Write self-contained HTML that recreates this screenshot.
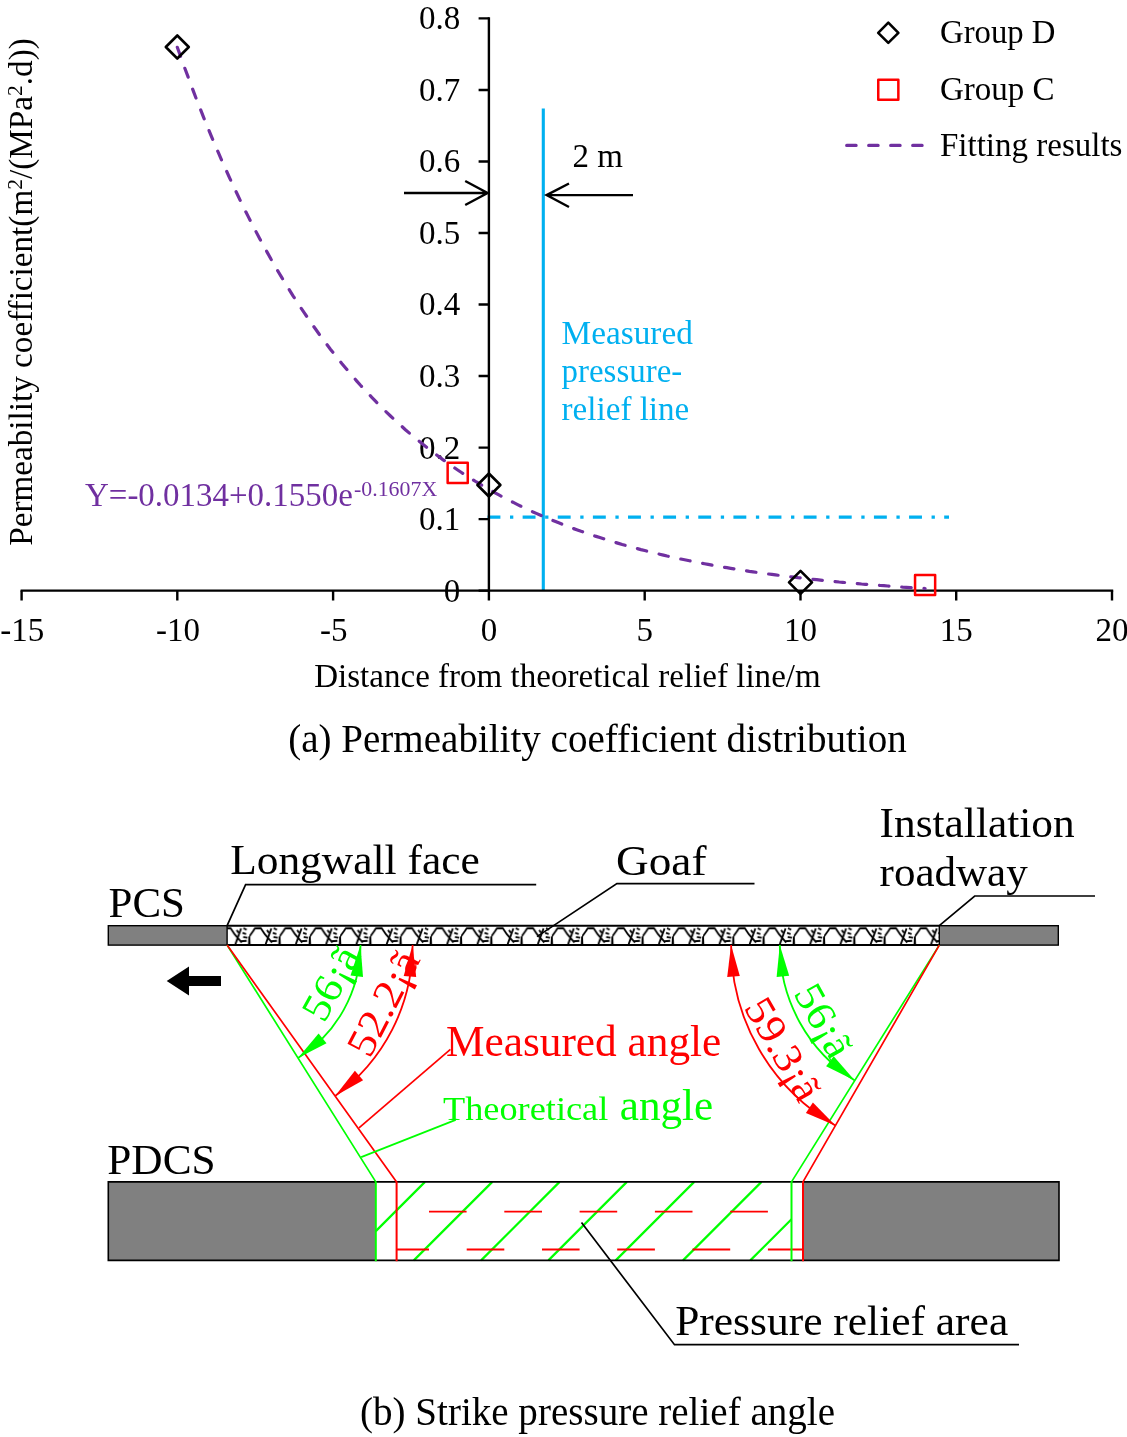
<!DOCTYPE html>
<html lang="en"><head><meta charset="utf-8"><title>Figure</title><style>html,body{margin:0;padding:0;background:#fff}svg{display:block}</style></head><body>
<svg width="1127" height="1437" viewBox="0 0 1127 1437" font-family="'Liberation Serif', serif">
<rect width="1127" height="1437" fill="#fff"/>
<g id="chart" font-size="33" fill="#000">
<line x1="543.3" y1="108.5" x2="543.3" y2="590.6" stroke="#00B0F0" stroke-width="3.1"/>
<line x1="487.5" y1="517.1" x2="949" y2="517.1" stroke="#00B0F0" stroke-width="3.2" stroke-dasharray="12.9 9.6 3.3 9.33"/>
<path d="M488.9 17.2V590.6M20.6 590.6H1113.2" stroke="#000" stroke-width="2.4" fill="none"/>
<path d="M478.6 590.6H488.9M478.6 519.1H488.9M478.6 447.6H488.9M478.6 376.0H488.9M478.6 304.5H488.9M478.6 233.0H488.9M478.6 161.5H488.9M478.6 90.0H488.9M478.6 18.4H488.9M21.6 590.6V600.6M177.3 590.6V600.6M333.1 590.6V600.6M488.9 590.6V600.6M644.7 590.6V600.6M800.5 590.6V600.6M956.2 590.6V600.6M1112.0 590.6V600.6" stroke="#000" stroke-width="2.4" fill="none"/>
<text x="460.3" y="601.5" text-anchor="end">0</text>
<text x="460.3" y="530.0" text-anchor="end">0.1</text>
<text x="460.3" y="458.5" text-anchor="end">0.2</text>
<text x="460.3" y="386.9" text-anchor="end">0.3</text>
<text x="460.3" y="315.4" text-anchor="end">0.4</text>
<text x="460.3" y="243.9" text-anchor="end">0.5</text>
<text x="460.3" y="172.4" text-anchor="end">0.6</text>
<text x="460.3" y="100.9" text-anchor="end">0.7</text>
<text x="460.3" y="29.3" text-anchor="end">0.8</text>
<text x="22.3" y="640.8" text-anchor="middle">-15</text>
<text x="178.0" y="640.8" text-anchor="middle">-10</text>
<text x="333.8" y="640.8" text-anchor="middle">-5</text>
<text x="488.9" y="640.8" text-anchor="middle">0</text>
<text x="644.7" y="640.8" text-anchor="middle">5</text>
<text x="800.5" y="640.8" text-anchor="middle">10</text>
<text x="956.2" y="640.8" text-anchor="middle">15</text>
<text x="1112.0" y="640.8" text-anchor="middle">20</text>
<polyline points="177.3,47.3 181.1,57.8 184.8,68.2 188.6,78.3 192.3,88.3 196.0,98.1 199.8,107.7 203.5,117.1 207.3,126.3 211.0,135.4 214.7,144.2 218.5,152.9 222.2,161.5 226.0,169.9 229.7,178.1 233.4,186.1 237.2,194.0 240.9,201.8 244.6,209.4 248.4,216.9 252.1,224.2 255.9,231.4 259.6,238.4 263.3,245.3 267.1,252.1 270.8,258.8 274.6,265.3 278.3,271.7 282.0,277.9 285.8,284.1 289.5,290.1 293.2,296.1 297.0,301.9 300.7,307.6 304.5,313.2 308.2,318.6 311.9,324.0 315.7,329.3 319.4,334.5 323.2,339.5 326.9,344.5 330.6,349.4 334.4,354.2 338.1,358.9 341.8,363.5 345.6,368.0 349.3,372.5 353.1,376.8 356.8,381.1 360.5,385.3 364.3,389.4 368.0,393.4 371.8,397.3 375.5,401.2 379.2,405.0 383.0,408.7 386.7,412.4 390.5,416.0 394.2,419.5 397.9,422.9 401.7,426.3 405.4,429.7 409.1,432.9 412.9,436.1 416.6,439.2 420.4,442.3 424.1,445.3 427.8,448.3 431.6,451.2 435.3,454.0 439.1,456.8 442.8,459.6 446.5,462.2 450.3,464.9 454.0,467.5 457.7,470.0 461.5,472.5 465.2,474.9 469.0,477.3 472.7,479.7 476.4,482.0 480.2,484.2 483.9,486.4 487.7,488.6 491.4,490.7 495.1,492.8 498.9,494.9 502.6,496.9 506.3,498.9 510.1,500.8 513.8,502.7 517.6,504.6 521.3,506.4 525.0,508.2 528.8,509.9 532.5,511.7 536.3,513.4 540.0,515.0 543.7,516.6 547.5,518.2 551.2,519.8 554.9,521.3 558.7,522.8 562.4,524.3 566.2,525.8 569.9,527.2 573.6,528.6 577.4,529.9 581.1,531.3 584.9,532.6 588.6,533.9 592.3,535.2 596.1,536.4 599.8,537.6 603.6,538.8 607.3,540.0 611.0,541.1 614.8,542.3 618.5,543.4 622.2,544.5 626.0,545.5 629.7,546.6 633.5,547.6 637.2,548.6 640.9,549.6 644.7,550.5 648.4,551.5 652.2,552.4 655.9,553.3 659.6,554.2 663.4,555.1 667.1,556.0 670.8,556.8 674.6,557.6 678.3,558.5 682.1,559.3 685.8,560.0 689.5,560.8 693.3,561.6 697.0,562.3 700.8,563.0 704.5,563.7 708.2,564.4 712.0,565.1 715.7,565.8 719.4,566.4 723.2,567.1 726.9,567.7 730.7,568.3 734.4,568.9 738.1,569.5 741.9,570.1 745.6,570.7 749.4,571.3 753.1,571.8 756.8,572.4 760.6,572.9 764.3,573.4 768.0,573.9 771.8,574.4 775.5,574.9 779.3,575.4 783.0,575.9 786.7,576.3 790.5,576.8 794.2,577.2 798.0,577.7 801.7,578.1 805.4,578.5 809.2,578.9 812.9,579.3 816.7,579.7 820.4,580.1 824.1,580.5 827.9,580.9 831.6,581.3 835.3,581.6 839.1,582.0 842.8,582.3 846.6,582.7 850.3,583.0 854.0,583.3 857.8,583.6 861.5,584.0 865.3,584.3 869.0,584.6 872.7,584.9 876.5,585.2 880.2,585.5 883.9,585.7 887.7,586.0 891.4,586.3 895.2,586.5 898.9,586.8 902.6,587.1 906.4,587.3 910.1,587.6 913.9,587.8 917.6,588.0 921.3,588.3 925.1,588.5" fill="none" stroke="#7030A0" stroke-width="3.2" stroke-dasharray="9.5 12.79" stroke-linecap="round"/>
<path d="M177.3 35.5L188.8 47.0L177.3 58.5L165.8 47.0Z" fill="none" stroke="#000" stroke-width="2.6" stroke-linejoin="round"/>
<path d="M488.9 473.5L500.4 485.0L488.9 496.5L477.4 485.0Z" fill="none" stroke="#000" stroke-width="2.6" stroke-linejoin="round"/>
<path d="M800.5 570.8L812.0 582.3L800.5 593.8L789.0 582.3Z" fill="none" stroke="#000" stroke-width="2.6" stroke-linejoin="round"/>
<rect x="447.65" y="462.85" width="20.1" height="20.1" fill="none" stroke="#FF0000" stroke-width="2.5" stroke-linejoin="round"/>
<rect x="915.05" y="574.95" width="20.1" height="20.1" fill="none" stroke="#FF0000" stroke-width="2.5" stroke-linejoin="round"/>
<path d="M888.3 22.7L898.4 32.8L888.3 42.9L878.2 32.8Z" fill="none" stroke="#000" stroke-width="2.6" stroke-linejoin="round"/>
<text x="940" y="42.9" textLength="115.5" lengthAdjust="spacingAndGlyphs">Group D</text>
<rect x="878.25" y="79.65" width="20.1" height="20.1" fill="none" stroke="#FF0000" stroke-width="2.5" stroke-linejoin="round"/>
<text x="940" y="99.8">Group C</text>
<line x1="846.7" y1="145.4" x2="922.6" y2="145.4" stroke="#7030A0" stroke-width="3.2" stroke-dasharray="9.4 12.6" stroke-linecap="round"/>
<text x="940" y="156.1">Fitting results</text>
<path d="M404 193H487.6M465.2 181L487.6 193L465.2 205M633 195.1H546.6M569 183.5L546.6 195.1L569 207" fill="none" stroke="#000" stroke-width="2.4" stroke-linejoin="miter"/>
<text x="572.6" y="167.4">2 m</text>
<g fill="#00B0F0"><text x="561.6" y="343.5" textLength="131.2" lengthAdjust="spacingAndGlyphs">Measured</text><text x="561.6" y="381.6" textLength="120.6" lengthAdjust="spacingAndGlyphs">pressure-</text><text x="561.6" y="419.8" textLength="127.7" lengthAdjust="spacingAndGlyphs">relief line</text></g>
<text x="85" y="505.5" fill="#7030A0" textLength="267.8" lengthAdjust="spacingAndGlyphs">Y=-0.0134+0.1550e</text>
<text x="354" y="496.3" fill="#7030A0" font-size="22" textLength="83.2" lengthAdjust="spacingAndGlyphs">-0.1607X</text>
<text transform="translate(31.5 545.8) rotate(-90)" textLength="507.6" lengthAdjust="spacingAndGlyphs">Permeability coefficient(m<tspan font-size="21.5" dy="-10">2</tspan><tspan dy="10">/(MPa</tspan><tspan font-size="21.5" dy="-10">2</tspan><tspan dy="10">.d))</tspan></text>
<text x="314.2" y="687.2" textLength="506.5" lengthAdjust="spacingAndGlyphs">Distance from theoretical relief line/m</text>
</g>
<text x="288.2" y="752.1" font-size="39" textLength="618.5" lengthAdjust="spacingAndGlyphs">(a) Permeability coefficient distribution</text>
<g id="diag" font-size="43" fill="#000">
<defs><pattern id="gv" x="219.1" y="925.4" width="30.25" height="19.6" patternUnits="userSpaceOnUse">
<path d="M0.3 18.7L0 11L3.7 5.9L5.6 2.9L11.4 2.7L15.6 9L22.7 17.3M22 3.1L16.3 18.7M23.4 7.4L27 8.8M24.1 11.6L28.4 12.4M24.4 2.8L27.6 4.4M21 15.9L27.6 15.4M17.6 4.6L19.4 7.4M30.25 11L29.9 18.7" fill="none" stroke="#000" stroke-width="1.8" stroke-linejoin="round"/>
</pattern></defs>
<rect x="227.1" y="925.7" width="712.1999999999999" height="19.399999999999977" fill="url(#gv)"/>
<path d="M227.1 925.7H939.3M227.1 945.1H939.3" stroke="#000" stroke-width="2"/>
<rect x="108.3" y="925.7" width="118.8" height="19.399999999999977" fill="#808080" stroke="#000" stroke-width="1.4"/>
<rect x="939.3" y="925.7" width="119.0" height="19.399999999999977" fill="#808080" stroke="#000" stroke-width="1.4"/>
<rect x="108.3" y="1181.9" width="267.5" height="78.5" fill="#808080"/>
<rect x="803.0" y="1181.9" width="256.0" height="78.5" fill="#808080"/>
<path d="M375.8 1231.1L425.0 1181.9M413.8 1260.4L492.3 1181.9M481.1 1260.4L559.6 1181.9M548.4 1260.4L626.9 1181.9M615.7 1260.4L694.2 1181.9M683.0 1260.4L761.5 1181.9M750.3 1260.4L791.5 1219.2" stroke="#00FF00" stroke-width="2.2" fill="none"/>
<path d="M429.0 1211.7H466.6M504.3 1211.7H542.0M579.6 1211.7H617.2M654.9 1211.7H692.5M730.2 1211.7H767.9M396.6 1249.5H429.0M466.7 1249.5H504.3M542.0 1249.5H579.6M617.2 1249.5H654.9M692.5 1249.5H730.2M767.9 1249.5H803.0" stroke="#FF0000" stroke-width="1.8" fill="none"/>
<path d="M108.3 1181.9H1059V1260.4H108.3Z" stroke="#000" stroke-width="1.6" fill="none"/>
<path d="M227.1 945.1L375.8 1181.9M939.3 945.1L791.5 1181.9" stroke="#00FF00" stroke-width="1.7" fill="none"/>
<path d="M375.8 1181.4V1261.2M791.5 1181.4V1261.2" stroke="#00FF00" stroke-width="2" fill="none"/>
<path d="M227.1 945.1L396.6 1181.9M939.3 945.1L803.0 1181.9" stroke="#FF0000" stroke-width="1.7" fill="none"/>
<path d="M396.6 1181.4V1261.2M803.0 1181.4V1261.2" stroke="#FF0000" stroke-width="2" fill="none"/>
<path d="M227.1 925.7L245.6 884.6H536.2M537 936.6L616.9 883.6H754.5M939.3 925.7L974.7 896H1095M581.5 1222.5L674.5 1344.7H1019" stroke="#000" stroke-width="1.7" fill="none"/>
<path d="M359 1127.8L450.4 1049.3" stroke="#FF0000" stroke-width="1.7"/>
<path d="M361.2 1157.1L455.7 1119.9" stroke="#00FF00" stroke-width="1.7"/>
<path d="M166.7 981L189 966.4V975.9H221V986.1H189V995.6Z" fill="#000"/>
<text x="108.6" y="917.2" textLength="76.4" lengthAdjust="spacingAndGlyphs">PCS</text>
<text x="107.3" y="1174" textLength="108.3" lengthAdjust="spacingAndGlyphs">PDCS</text>
<text x="230.2" y="874" textLength="249.5" lengthAdjust="spacingAndGlyphs">Longwall face</text>
<text x="616" y="875.2" textLength="90.5" lengthAdjust="spacingAndGlyphs">Goaf</text>
<text x="879.6" y="836.6" textLength="195" lengthAdjust="spacingAndGlyphs">Installation</text>
<text x="879.6" y="885.8">roadway</text>
<text x="675.2" y="1334.5" textLength="333" lengthAdjust="spacingAndGlyphs">Pressure relief area</text>
<text x="446" y="1056" fill="#FF0000" font-size="43.3" textLength="275.3" lengthAdjust="spacingAndGlyphs">Measured angle</text>
<text x="443" y="1119.6" fill="#00FF00"><tspan font-size="34" textLength="165.3" lengthAdjust="spacingAndGlyphs">Theoretical</tspan><tspan x="619.8" font-size="44" textLength="93.4" lengthAdjust="spacingAndGlyphs">angle</tspan></text>
<path d="M360.5 945.1A133.4 133.4 0 0 1 298.0 1058.1" stroke="#00FF00" stroke-width="1.8" fill="none"/>
<path d="M360.5 945.1L350.5 975.6L363.0 977.1Z" fill="#00FF00"/>
<path d="M298.0 1058.1L326.5 1043.2L318.6 1033.4Z" fill="#00FF00"/>
<path d="M412.6 945.1A185.5 185.5 0 0 1 335.1 1095.9" stroke="#FF0000" stroke-width="1.8" fill="none"/>
<path d="M412.6 945.1L403.7 976.0L416.2 977.0Z" fill="#FF0000"/>
<path d="M335.1 1095.9L363.1 1080.3L354.9 1070.7Z" fill="#FF0000"/>
<path d="M779.8 945.1A159.5 159.5 0 0 0 854.8 1080.4" stroke="#00FF00" stroke-width="1.8" fill="none"/>
<path d="M779.8 945.1L776.6 977.1L789.2 975.8Z" fill="#00FF00"/>
<path d="M854.8 1080.4L833.7 1056.2L826.1 1066.2Z" fill="#00FF00"/>
<path d="M731.1 945.1A208.2 208.2 0 0 0 835.4 1125.5" stroke="#FF0000" stroke-width="1.8" fill="none"/>
<path d="M731.1 945.1L727.2 977.0L739.8 976.0Z" fill="#FF0000"/>
<path d="M835.4 1125.5L812.9 1102.6L805.9 1113.0Z" fill="#FF0000"/>
<text transform="translate(342.8 989.9) rotate(-61.1)" x="-39.0" fill="#00FF00" font-size="41" textLength="78" lengthAdjust="spacingAndGlyphs">56¡ã</text>
<text transform="translate(395.4 1009.4) rotate(-62.8)" x="-56.0" fill="#FF0000" font-size="41" textLength="112" lengthAdjust="spacingAndGlyphs">52.2¡ã</text>
<text transform="translate(811.9 1027.3) rotate(61)" x="-39.0" fill="#00FF00" font-size="41" textLength="78" lengthAdjust="spacingAndGlyphs">56¡ã</text>
<text transform="translate(771.4 1056) rotate(59.95)" x="-56.0" fill="#FF0000" font-size="41" textLength="112" lengthAdjust="spacingAndGlyphs">59.3¡ã</text>
</g>
<text x="360" y="1425.1" font-size="39" textLength="475" lengthAdjust="spacingAndGlyphs">(b) Strike pressure relief angle</text>
</svg>
</body></html>
